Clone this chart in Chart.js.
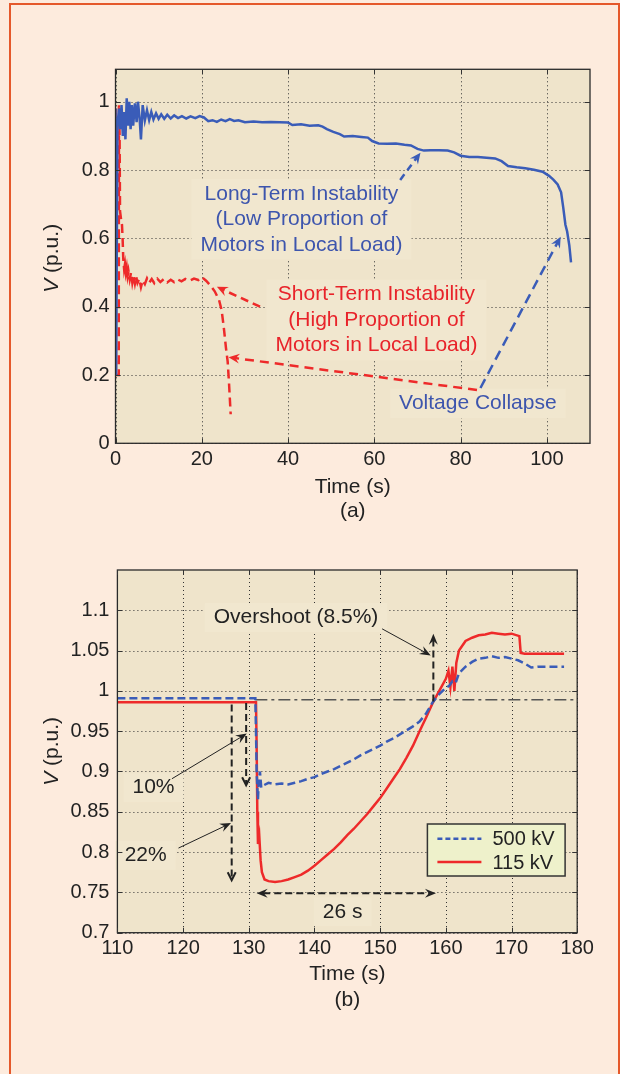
<!DOCTYPE html>
<html><head><meta charset="utf-8">
<script src="https://cdn.jsdelivr.net/npm/chart.js@4.4.1/dist/chart.umd.min.js"></script>
<style>
html,body{margin:0;padding:0;background:#fdebdd;width:620px;height:1074px;overflow:hidden;}
#frame{position:absolute;left:9px;top:3px;width:611px;height:1120px;box-sizing:border-box;border:2.5px solid #e5582a;}
canvas{position:absolute;left:0;}
#ca{top:0;}
#cb{top:530px;}
</style></head><body>
<div id="frame"></div>
<canvas id="ca" width="620" height="530"></canvas>
<canvas id="cb" width="620" height="544"></canvas>
<script>
// ---------- Chart (a) data ----------
const longTermTime = [0,0.15,0.3,0.45,0.8,1.1,1.4,1.7,2.0,2.3,2.6,2.9,3.2,3.5,3.8,4.1,4.5,4.9,5.2,5.6,5.9,6.3,6.8,7.3,7.8,8.3,8.8,9.4,10,10.6,11.3,12,12.8,13.6,14.5,15.4,16.4,17.4,18.5,19.5,20.5,21.5,22.5,23.5,24.5,25.5,26.5,27.5,28.5,30,32,34,36,38,40,41,43,45,47,48,49,50.5,52,53,55,57,58.5,59.5,61,63,65,67,68.5,70,71.5,73,75,77,78.5,80,82,84,86,88,89.5,91,93,95,97,99,100.5,101.5,102.5,103.3,103.8,104.3,104.7,105.2,105.6];
const longTermV    = [0.98,0.2,0.2,0.93,0.98,0.92,0.99,0.9,0.97,0.89,1.01,0.93,1.0,0.92,0.99,0.93,0.995,0.94,1.0,0.95,0.89,0.99,0.945,0.975,0.946,0.97,0.948,0.966,0.95,0.963,0.95,0.962,0.951,0.96,0.952,0.958,0.951,0.957,0.952,0.958,0.954,0.943,0.946,0.941,0.948,0.943,0.949,0.944,0.946,0.94,0.942,0.94,0.941,0.94,0.939,0.932,0.934,0.93,0.931,0.927,0.92,0.912,0.905,0.898,0.9,0.897,0.895,0.885,0.878,0.877,0.878,0.874,0.872,0.862,0.857,0.858,0.858,0.857,0.852,0.842,0.838,0.838,0.836,0.834,0.826,0.812,0.808,0.805,0.801,0.795,0.783,0.772,0.758,0.735,0.69,0.64,0.62,0.58,0.53];
const shortTermTime = [0,0.1,0.75,0.8,0.95,1.05,1.3,1.5,1.65,1.8,2.0,2.2,2.4,2.6,2.8,3.0,3.3,3.6,3.9,4.2,4.5,4.8,5.1,5.5,5.9,6.3,6.8,7.3,7.8,8.4,9.0,9.7,10.4,11.2,12.0,12.8,13.6,14.4,15.3,16.2,17.2,18.2,19.2,20.0,21.0,22.0,23.0,24.0,24.6,25.1,25.6,26.0,26.3,26.7];
const shortTermV    = [0.98,0.2,0.2,0.99,0.9,0.68,0.655,0.64,0.6,0.54,0.51,0.525,0.5,0.515,0.49,0.505,0.48,0.5,0.47,0.49,0.468,0.488,0.47,0.482,0.457,0.477,0.466,0.483,0.47,0.481,0.469,0.482,0.472,0.481,0.471,0.479,0.472,0.48,0.474,0.481,0.476,0.482,0.478,0.487,0.476,0.462,0.445,0.42,0.39,0.34,0.28,0.24,0.18,0.085];
const xTicksA = [0,20,40,60,80,100];
const xTickLabelsA = ['0','20','40','60','80','100'];
const yTicksA = [0,0.2,0.4,0.6,0.8,1];
const yTickLabelsA = ['0','0.2','0.4','0.6','0.8','1'];
const seriesLabelsA = ['Long-Term Instability','Short-Term Instability'];

// ---------- Chart (b) data ----------
const time500 = [110,115,120,125,128,131,131.1,131.2,131.3,131.4,131.5,131.7,131.9,132.3,133,134,135,136,137,138,139,140,141,142,143,144,145,146,147,148,149,150,151,152,153,154,155,156,157,158,159,160,160.5,161,161.5,162,163,164,165,166,167,168,169,170,171,172,173,174,176,178];
const v500    = [0.991,0.991,0.991,0.991,0.991,0.991,0.95,0.9,0.88,0.865,0.885,0.9,0.88,0.883,0.886,0.884,0.885,0.884,0.886,0.888,0.891,0.893,0.897,0.9,0.903,0.907,0.911,0.915,0.92,0.924,0.928,0.932,0.937,0.941,0.946,0.951,0.956,0.962,0.972,0.986,0.996,1.004,1.006,1.012,1.01,1.022,1.03,1.036,1.04,1.041,1.043,1.041,1.042,1.04,1.038,1.034,1.029,1.03,1.03,1.03];
const time115 = [110,115,120,125,131.1,131.2,131.3,131.4,131.6,131.8,132,132.4,133,134,135,136,137,138,139,140,141,142,143,144,145,146,147,148,149,150,151,152,153,154,155,156,157,158,159,160,160.4,160.7,161,161.3,161.6,162,163,164,165,166,167,168,169,170,171.2,171.4,172,175,178];
const v115    = [0.986,0.986,0.986,0.986,0.986,0.93,0.85,0.81,0.82,0.79,0.775,0.766,0.764,0.763,0.764,0.766,0.769,0.772,0.777,0.783,0.79,0.797,0.804,0.812,0.821,0.829,0.838,0.847,0.857,0.867,0.879,0.891,0.903,0.917,0.932,0.95,0.967,0.985,1.0,1.015,1.025,1.005,1.03,1.0,1.035,1.05,1.062,1.066,1.069,1.07,1.072,1.071,1.07,1.071,1.068,1.047,1.046,1.046,1.046];
const refTime = [131,180];
const refV    = [0.989,0.989];
const xTicksB = [110,120,130,140,150,160,170,180];
const xTickLabelsB = ['110','120','130','140','150','160','170','180'];
const yTicksB = [0.7,0.75,0.8,0.85,0.9,0.95,1,1.05,1.1];
const yTickLabelsB = ['0.7','0.75','0.8','0.85','0.9','0.95','1','1.05','1.1'];
const seriesLabelsB = ['500 kV','115 kV'];

// ---------- styles ----------
const FONT = '"Liberation Sans", Arial, Helvetica, sans-serif';
const BLUE = '#3a5cb8', RED = '#ee2a2a', BLUE_T = '#3d55ad', RED_T = '#e8232a', INK = '#222';
const PLOT_BG = '#efe4cb', TEXT_BG = '#f1e7cf';
const pts = (ts, vs) => ts.map((t, i) => ({x: t, y: vs[i]}));

function drawArrowHead(ctx, x, y, ang, len, wid, style) {
  ctx.save();
  ctx.setLineDash([]);
  ctx.translate(x, y); ctx.rotate(ang);
  ctx.beginPath();
  if (style === 'open') {
    ctx.moveTo(-len, -wid); ctx.lineTo(0, 0); ctx.lineTo(-len, wid);
    ctx.lineWidth = 2; ctx.stroke();
  } else {
    ctx.moveTo(0, 0); ctx.lineTo(-len, -wid); ctx.lineTo(-len * 0.65, 0); ctx.lineTo(-len, wid); ctx.closePath();
    ctx.fill();
  }
  ctx.restore();
}
function drawArrow(ctx, x1, y1, x2, y2, o) {
  ctx.save();
  ctx.strokeStyle = o.color; ctx.fillStyle = o.color; ctx.lineWidth = o.width;
  ctx.setLineDash(o.dash || []);
  const ang = Math.atan2(y2 - y1, x2 - x1);
  const len = o.head || 11, wid = o.headW || 5;
  const back = o.style === 'open' ? 1 : len * 0.6;
  let sx = x1, sy = y1;
  if (o.both) { sx = x1 + Math.cos(ang) * back; sy = y1 + Math.sin(ang) * back; }
  ctx.beginPath(); ctx.moveTo(sx, sy);
  ctx.lineTo(x2 - Math.cos(ang) * back, y2 - Math.sin(ang) * back); ctx.stroke();
  drawArrowHead(ctx, x2, y2, ang, len, wid, o.style);
  if (o.both) drawArrowHead(ctx, x1, y1, ang + Math.PI, len, wid, o.style);
  ctx.restore();
}

function makeDeco(cfg) {
  return {
    id: 'deco',
    beforeDraw(chart) {
      const {ctx, chartArea: a} = chart;
      ctx.save(); ctx.fillStyle = PLOT_BG;
      ctx.fillRect(a.left, a.top, a.right - a.left, a.bottom - a.top);
      ctx.restore();
    },
    beforeDatasetsDraw(chart) {
      const {ctx, chartArea: a, scales: {x, y}} = chart;
      ctx.save();
      ctx.strokeStyle = '#333'; ctx.lineWidth = 1; ctx.setLineDash([1, 3]);
      cfg.xTicks.forEach(v => { const p = Math.round(x.getPixelForValue(v)) + 0.5;
        ctx.beginPath(); ctx.moveTo(p, a.top); ctx.lineTo(p, a.bottom); ctx.stroke(); });
      cfg.yTicks.forEach(v => { const p = Math.round(y.getPixelForValue(v)) + 0.5;
        ctx.beginPath(); ctx.moveTo(a.left, p); ctx.lineTo(a.right, p); ctx.stroke(); });
      ctx.setLineDash([]);
      ctx.font = cfg.textSize + 'px ' + FONT;
      cfg.texts.forEach(t => {
        const w = Math.max(...t.lines.map(l => ctx.measureText(l).width));
        const cx = x.getPixelForValue(t.x), cy = y.getPixelForValue(t.y);
        const h = t.lines.length * cfg.lineGap;
        ctx.fillStyle = TEXT_BG;
        ctx.fillRect(cx - w / 2 - 9, cy - h / 2 - 2, w + 18, h + 4);
      });
      ctx.restore();
    },
    afterDatasetsDraw(chart) {
      const {ctx, chartArea: a, scales: {x, y}} = chart;
      cfg.arrows.forEach(r => drawArrow(ctx, x.getPixelForValue(r.from[0]), y.getPixelForValue(r.from[1]),
        x.getPixelForValue(r.to[0]), y.getPixelForValue(r.to[1]), r));
      ctx.save();
      ctx.font = cfg.textSize + 'px ' + FONT; ctx.textAlign = 'center'; ctx.textBaseline = 'middle';
      cfg.texts.forEach(t => {
        const cx = x.getPixelForValue(t.x), cy = y.getPixelForValue(t.y);
        ctx.fillStyle = t.color;
        t.lines.forEach((l, i) => ctx.fillText(l, cx, cy + (i - (t.lines.length - 1) / 2) * cfg.lineGap));
      });
      ctx.restore();
      if (cfg.legend) {
        const L = cfg.legend, bx = a.left + L.dx, by = a.top + L.dy;
        ctx.save();
        ctx.fillStyle = '#eef1cb'; ctx.fillRect(bx, by, L.w, L.h);
        ctx.strokeStyle = '#333'; ctx.lineWidth = 1.5; ctx.strokeRect(bx, by, L.w, L.h);
        chart.data.datasets.slice(0, 2).forEach((ds, i) => {
          const ly = by + L.rows[i];
          ctx.strokeStyle = ds.borderColor; ctx.lineWidth = ds.borderWidth;
          ctx.setLineDash(L.dashes[i]);
          ctx.beginPath(); ctx.moveTo(bx + 10, ly); ctx.lineTo(bx + 54, ly); ctx.stroke();
          ctx.setLineDash([]);
          ctx.fillStyle = INK; ctx.font = '20px ' + FONT; ctx.textBaseline = 'middle'; ctx.textAlign = 'left';
          ctx.fillText(ds.label, bx + 65, ly + 1);
        });
        ctx.restore();
      }
    },
    afterDraw(chart) {
      const {ctx, chartArea: a, scales: {x, y}} = chart;
      ctx.save();
      ctx.strokeStyle = '#2a2a2a'; ctx.lineWidth = 1.3;
      ctx.strokeRect(a.left, a.top, a.right - a.left, a.bottom - a.top);
      ctx.lineWidth = 1; ctx.strokeStyle = '#333';
      const tl = 5;
      cfg.xTicks.forEach(v => { const p = Math.round(x.getPixelForValue(v)) + 0.5;
        ctx.beginPath(); ctx.moveTo(p, a.bottom); ctx.lineTo(p, a.bottom - tl);
        ctx.moveTo(p, a.top); ctx.lineTo(p, a.top + tl); ctx.stroke(); });
      cfg.yTicks.forEach(v => { const p = Math.round(y.getPixelForValue(v)) + 0.5;
        ctx.beginPath(); ctx.moveTo(a.left, p); ctx.lineTo(a.left + tl, p);
        ctx.moveTo(a.right, p); ctx.lineTo(a.right - tl, p); ctx.stroke(); });
      // y title: italic V + (p.u.)
      ctx.translate(cfg.yTitleX, (a.top + a.bottom) / 2 + cfg.yTitleDy);
      ctx.rotate(-Math.PI / 2);
      const fi = 'italic 21px ' + FONT, fn = '21px ' + FONT;
      ctx.font = fi; const w1 = ctx.measureText('V').width;
      ctx.font = fn; const w2 = ctx.measureText(' (p.u.)').width;
      const s = -(w1 + w2) / 2;
      ctx.fillStyle = INK; ctx.textBaseline = 'alphabetic'; ctx.textAlign = 'left';
      ctx.font = fi; ctx.fillText('V', s, 0);
      ctx.font = fn; ctx.fillText(' (p.u.)', s + w1, 0);
      ctx.restore();
    }
  };
}

function axes(c) {
  return {
    x: {
      type: 'linear', min: c.xMin, max: c.xMax,
      afterBuildTicks: s => { s.ticks = c.xTicks.map(v => ({value: v})); },
      afterFit: s => { s.height = c.xH; },
      grid: {display: false, drawTicks: false}, border: {display: false},
      ticks: {autoSkip: false, maxRotation: 0, padding: c.xPad, color: INK,
        font: {family: FONT, size: 20}, callback: (v, i) => c.xLabels[i]},
      title: {display: true, text: c.xTitle, color: INK, padding: 0,
        font: {family: FONT, size: 21, lineHeight: c.titleLH}}
    },
    y: {
      type: 'linear', min: c.yMin, max: c.yMax,
      afterBuildTicks: s => { s.ticks = c.yTicks.map(v => ({value: v})); },
      afterFit: s => { s.width = 60; },
      grid: {display: false, drawTicks: false}, border: {display: false},
      ticks: {autoSkip: false, padding: c.yPad, color: INK,
        font: {family: FONT, size: 20}, callback: (v, i) => c.yLabels[i]},
      title: {display: false}
    }
  };
}

// ---------- Chart (a) ----------
new Chart(document.getElementById('ca'), {
  type: 'line',
  data: {datasets: [
    {label: seriesLabelsA[0], data: pts(longTermTime, longTermV), borderColor: BLUE, borderWidth: 2.5,
     pointRadius: 0, tension: 0, fill: false},
    {label: seriesLabelsA[1], data: pts(shortTermTime, shortTermV), borderColor: RED, borderWidth: 2.5,
     borderDash: [9, 5], pointRadius: 0, tension: 0, fill: false}
  ]},
  options: {
    responsive: false, animation: false, devicePixelRatio: 1,
    layout: {padding: {left: 55.5, right: 30, top: 69.3, bottom: 6.7}},
    plugins: {legend: {display: false}, tooltip: {enabled: false}},
    scales: axes({xMin: 0, xMax: 110, xTicks: xTicksA, xLabels: xTickLabelsA, xH: 80, xPad: 4.5,
      xTitle: ['Time (s)', '(a)'], titleLH: 1.15,
      yMin: 0, yMax: 1.095, yTicks: yTicksA, yLabels: yTickLabelsA, yPad: 6})
  },
  plugins: [makeDeco({
    xTicks: xTicksA, yTicks: yTicksA, textSize: 21, lineGap: 25.5, yTitleX: 57.5, yTitleDy: 2,
    texts: [
      {lines: ['Long-Term Instability', '(Low Proportion of', 'Motors in Local Load)'], x: 43.1, y: 0.656, color: BLUE_T},
      {lines: ['Short-Term Instability', '(High Proportion of', 'Motors in Local Load)'], x: 60.5, y: 0.361, color: RED_T},
      {lines: ['Voltage Collapse'], x: 84.0, y: 0.117, color: BLUE_T}
    ],
    arrows: [
      {from: [66.0, 0.771], to: [70.7, 0.851], color: BLUE, width: 2.5, dash: [7, 5]},
      {from: [33.5, 0.40], to: [23.5, 0.458], color: RED, width: 2.5, dash: [8, 5]},
      {from: [83.8, 0.156], to: [26.2, 0.252], color: RED, width: 2.5, dash: [9, 6]},
      {from: [84.6, 0.162], to: [103.2, 0.605], color: BLUE, width: 2.5, dash: [10, 6]}
    ]
  })]
});

// ---------- Chart (b) ----------
new Chart(document.getElementById('cb'), {
  type: 'line',
  data: {datasets: [
    {label: seriesLabelsB[0], data: pts(time500, v500), borderColor: BLUE, borderWidth: 2.5,
     borderDash: [8, 4], pointRadius: 0, tension: 0, fill: false},
    {label: seriesLabelsB[1], data: pts(time115, v115), borderColor: RED, borderWidth: 2.5,
     pointRadius: 0, tension: 0, fill: false},
    {label: 'reference', data: pts(refTime, refV), borderColor: '#555', borderWidth: 1.5,
     borderDash: [12, 4, 3, 4], pointRadius: 0, tension: 0, fill: false}
  ]},
  options: {
    responsive: false, animation: false, devicePixelRatio: 1,
    layout: {padding: {left: 57.4, right: 42.8, top: 40, bottom: 60.3}},
    plugins: {legend: {display: false}, tooltip: {enabled: false}},
    scales: axes({xMin: 110, xMax: 180, xTicks: xTicksB, xLabels: xTickLabelsB, xH: 81, xPad: 3.6,
      xTitle: ['Time (s)', '(b)'], titleLH: 1.25,
      yMin: 0.7, yMax: 1.15, yTicks: yTicksB, yLabels: yTickLabelsB, yPad: 8})
  },
  plugins: [makeDeco({
    xTicks: xTicksB, yTicks: yTicksB, textSize: 21, lineGap: 25, yTitleX: 57.5, yTitleDy: 0,
    legend: {dx: 310, dy: 254, w: 137.7, h: 52, rows: [14.7, 38], dashes: [[5, 3], []]},
    texts: [
      {lines: ['Overshoot (8.5%)'], x: 137.2, y: 1.091, color: INK},
      {lines: ['10%'], x: 115.5, y: 0.880, color: INK},
      {lines: ['22%'], x: 114.3, y: 0.796, color: INK},
      {lines: ['26 s'], x: 144.3, y: 0.726, color: INK}
    ],
    arrows: [
      {from: [150.3, 1.077], to: [157.7, 1.044], color: INK, width: 1, head: 11, headW: 4.5},
      {from: [158.1, 0.987], to: [158.1, 1.071], color: INK, width: 2, dash: [7, 4], head: 11, headW: 4.5},
      {from: [127.4, 0.983], to: [127.4, 0.765], color: INK, width: 2, dash: [7, 4], style: 'open', head: 8, headW: 4},
      {from: [129.6, 0.985], to: [129.6, 0.883], color: INK, width: 2, dash: [7, 4], style: 'open', head: 8, headW: 4},
      {from: [118.3, 0.891], to: [129.7, 0.947], color: INK, width: 1, head: 11, headW: 4.5},
      {from: [119.3, 0.805], to: [127.3, 0.836], color: INK, width: 1, head: 11, headW: 4.5},
      {from: [131.2, 0.749], to: [158.5, 0.749], color: INK, width: 2, dash: [7, 4], both: true, head: 11, headW: 4.5}
    ]
  })]
});
</script>
</body></html>
